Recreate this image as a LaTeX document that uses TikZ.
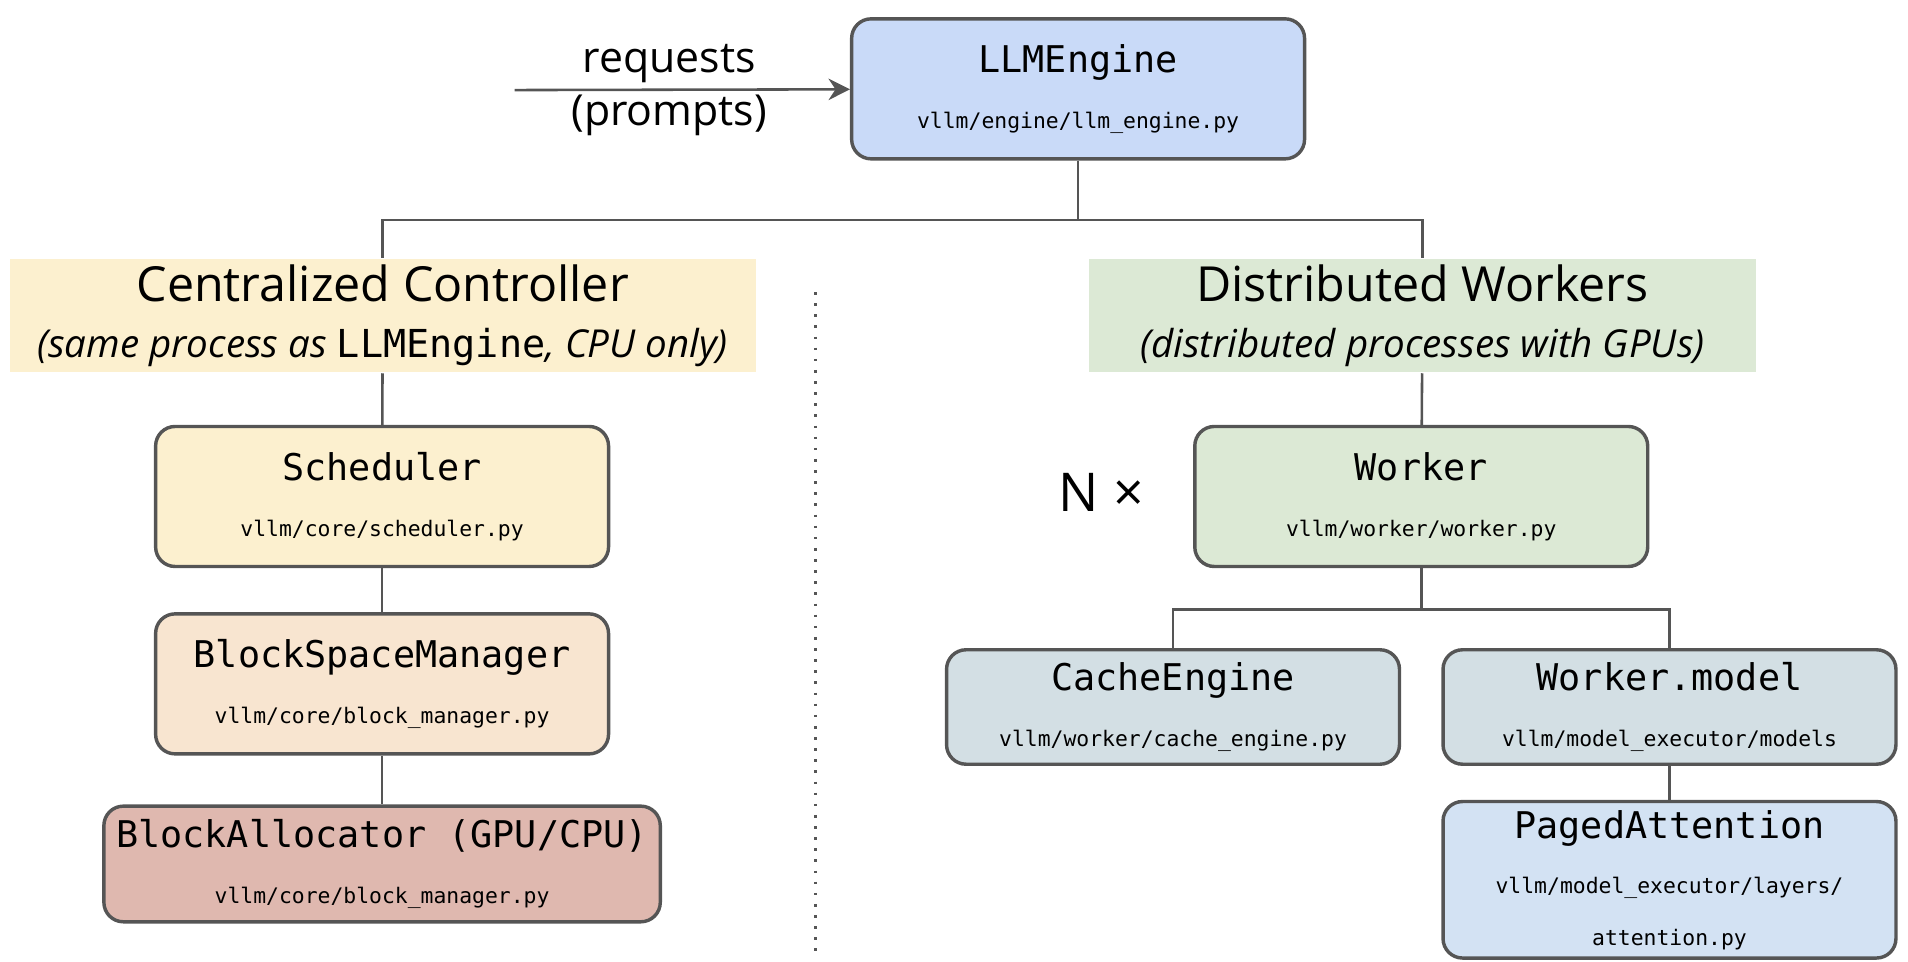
\documentclass[tikz,border=0pt]{standalone}
\usepackage{fontspec}
\setmainfont{Open Sans}
\setsansfont{Open Sans}
\setmonofont{DejaVu Sans Mono}
\usepackage{tikz}
\usetikzlibrary{positioning}
\usetikzlibrary{arrows.meta}
\definecolor{llmblue}{HTML}{C9DAF8}
\definecolor{ctlyellow}{HTML}{FCF0CF}
\definecolor{wkgreen}{HTML}{DCE9D5}
\definecolor{bsmorange}{HTML}{F8E5D0}
\definecolor{allocred}{HTML}{DFB8AF}
\definecolor{cachegray}{HTML}{D3DFE4}
\definecolor{pagedblue}{HTML}{D3E2F3}
\definecolor{edgegray}{HTML}{555555}
\newcommand{\modbox}[2]{{\ttfamily\fontsize{8.6}{10}\selectfont #1}\\[1pt]{\ttfamily\fontsize{5}{6}\selectfont #2}}
\newcommand{\pathfont}{\ttfamily\fontsize{5}{6.5}\selectfont}
\tikzset{
  mod/.style={draw=edgegray,line width=0.8pt,rounded corners=0.16cm,align=center,
    minimum width=3.72cm,minimum height=1.15cm,inner sep=2pt},
  banner/.style={minimum height=0.93cm,align=center,inner sep=0pt},
  link/.style={draw=edgegray,line width=0.6pt}
}
\begin{document}
\begin{tikzpicture}[x=0.01cm,y=-0.01cm]
   \useasboundingbox (0,0) rectangle (1568,790);
   \node[mod,fill=llmblue] (engine) at (886,73) {\modbox{LLMEngine}{vllm/engine/llm\_engine.py}};
   \coordinate (req) at (423,74);
   \node[align=center,font=\fontsize{10}{12.5}\selectfont] (reqtext) at (550,74) {requests\\(prompts)};
   \draw[link,-{Stealth[length=5pt,width=5pt]}] (req) -- (engine);

   \node[banner,fill=ctlyellow,minimum width=6.13cm] (ctl) at (314.5,259.5)
     {{\fontsize{11.3}{13}\selectfont Centralized Controller}\\[1pt]
      {\fontsize{9}{11}\selectfont\itshape (same process as \upshape\ttfamily LLMEngine\sffamily\itshape, CPU only)}};
   \node[banner,fill=wkgreen,minimum width=5.48cm] (dist) at (1169,259.5)
     {{\fontsize{11.3}{13}\selectfont Distributed Workers}\\[1pt]
      {\fontsize{9}{11}\selectfont\itshape (distributed processes with GPUs)}};

   \node[mod,fill=ctlyellow] (sched) at (314,408) {\modbox{Scheduler}{vllm/core/scheduler.py}};
   \node[mod,fill=bsmorange] (bsm) at (314,562) {\modbox{BlockSpaceManager}{vllm/core/block\_manager.py}};
   \node[mod,fill=allocred,minimum width=4.57cm,minimum height=0.95cm] (alloc) at (314,710)
     {\modbox{BlockAllocator (GPU/CPU)}{vllm/core/block\_manager.py}};

   \node[mod,fill=wkgreen] (worker) at (1168,408) {\modbox{Worker}{vllm/worker/worker.py}};
   \node[font=\fontsize{12.5}{15}\selectfont] (ntimes) at (905,405) {N ×};
   \node[mod,fill=cachegray,minimum height=0.94cm] (cache) at (964,581) {\modbox{CacheEngine}{vllm/worker/cache\_engine.py}};
   \node[mod,fill=cachegray,minimum height=0.94cm] (wmodel) at (1372,581) {\modbox{Worker.model}{vllm/model\_executor/models}};
   \node[mod,fill=pagedblue,minimum height=1.02cm] (paged) at (1372,723)
     {{\ttfamily\fontsize{8.6}{10}\selectfont PagedAttention}\\[1pt]{\pathfont vllm/model\_executor/layers/}\\{\pathfont attention.py}};

   % tree links
   \draw[link] (engine.south) -- ++(0,49) -| (ctl.north);
   \draw[link] (engine.south) -- ++(0,49) -| (dist.north);
   \draw[link] (ctl) -- (sched);
   \draw[link] (sched) -- (bsm);
   \draw[link] (bsm) -- (alloc);
   \draw[link] (dist) -- (worker);
   \draw[link] (worker.south) -- ++(0,34) -| (cache.north);
   \draw[link] (worker.south) -- ++(0,34) -| (wmodel.north);
   \draw[link] (wmodel) -- (paged);

   \coordinate (septop) at (670,240);
   \coordinate (sepbot) at (670,787);
   \draw[edgegray,dotted,line width=0.6pt] (septop) -- (sepbot);
\end{tikzpicture}
\end{document}
